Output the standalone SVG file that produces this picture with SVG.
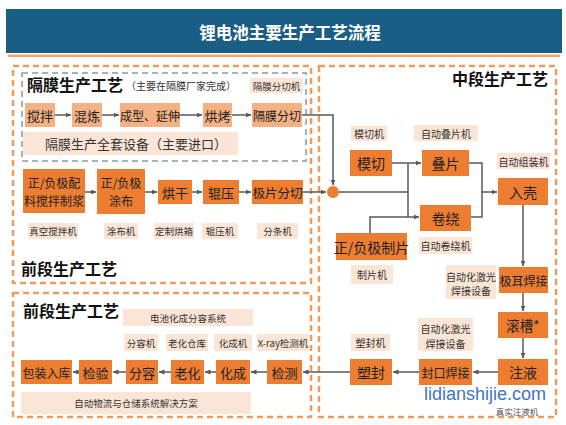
<svg xmlns="http://www.w3.org/2000/svg" width="566" height="425" viewBox="0 0 566 425">
<defs>
<marker id="ah" markerWidth="6" markerHeight="6" refX="5.5" refY="3" orient="auto" markerUnits="userSpaceOnUse">
<path d="M0,0.5 L6,3 L0,5.5 Z" fill="#595959"/>
</marker>
<style>
text{font-family:"Noto Sans CJK SC","Noto Sans",sans-serif;text-anchor:middle;dominant-baseline:central}
.dark rect{fill:#ED7D31}
.dark text{fill:#222;font-size:13px}
.light rect{fill:#F4B183}
.light text{fill:#222;font-size:13px}
.lbl rect{fill:#FBE5D6}
.lbl text{fill:#333;font-size:9.5px}
.head{font-weight:bold;font-size:16px;fill:#111}
.od{fill:none;stroke:#EE9C5E;stroke-width:2.5;stroke-dasharray:6 4}
.gd{fill:none;stroke:#A8B0B8;stroke-width:2;stroke-dasharray:6 4}
.con path{fill:none;stroke:#595959;stroke-width:1.5}
.con .a{marker-end:url(#ah)}
</style>
</defs>
<rect width="566" height="425" fill="#ffffff"/>
<g id="title">
<rect x="6" y="9" width="556" height="44" fill="#1B5E85"/>
<rect x="8" y="54.5" width="552" height="2.5" fill="#F2A46E"/>
<text x="290" y="32" style="font-size:16.5px;font-weight:bold;fill:#fff">锂电池主要生产工艺流程</text>
</g>
<g id="sections">
<rect class="od" x="13" y="66" width="298" height="217"/>
<rect class="gd" x="22" y="73" width="284" height="88"/>
<rect class="od" x="319" y="66" width="237" height="351"/>
<rect class="od" x="13" y="293" width="298" height="124"/>
<text class="head" x="27" y="84" style="text-anchor:start">隔膜生产工艺</text>
<text x="126" y="85" style="text-anchor:start;font-size:10px;fill:#333">（主要在隔膜厂家完成）</text>
<text class="head" x="21" y="268" style="text-anchor:start">前段生产工艺</text>
<text class="head" x="548" y="78" style="text-anchor:end">中段生产工艺</text>
<text class="head" x="23" y="310" style="text-anchor:start">前段生产工艺</text>
</g>
<g id="connectors" class="con">
<path class="a" d="M55,115 H71"/>
<path class="a" d="M102,115 H119"/>
<path class="a" d="M180,115 H202"/>
<path class="a" d="M232,115 H251"/>
<path class="a" d="M302,115 H333 V185"/>
<path class="a" d="M85,192 H96"/>
<path class="a" d="M145,192 H157"/>
<path class="a" d="M192,192 H202"/>
<path class="a" d="M239,192 H251"/>
<path class="a" d="M303,192 H326"/>
<path d="M339,192 H408"/>
<path d="M408,163 V217"/>
<path class="a" d="M392,163 H421"/>
<path class="a" d="M370,233 V217 H419"/>
<path d="M469,163 H482 V217 H471"/>
<path class="a" d="M482,192 H497"/>
<path class="a" d="M523,205 V266"/>
<path class="a" d="M523,293 V311"/>
<path class="a" d="M523,338 V358"/>
<path class="a" d="M498,372 H473"/>
<path class="a" d="M419,372 H393"/>
<path class="a" d="M350,372 H303"/>
<path class="a" d="M267,372 H251"/>
<path class="a" d="M216,372 H205"/>
<path class="a" d="M171,372 H159"/>
<path class="a" d="M126,372 H113"/>
<path class="a" d="M79,372 H73"/>
</g>
<g id="junction"><circle cx="333" cy="192" r="6" fill="#ED7D31"/></g>
<g id="n-jiaoban" class="light"><rect x="25" y="103" width="30" height="24"/><text x="40" y="115">搅拌</text></g>
<g id="n-hunlian" class="light"><rect x="72" y="103" width="30" height="24"/><text x="87" y="115">混炼</text></g>
<g id="n-chengxing" class="light"><rect x="120" y="103" width="60" height="24"/><text x="150" y="115" style="font-size:12px">成型、延伸</text></g>
<g id="n-hongkao" class="light"><rect x="203" y="103" width="29" height="24"/><text x="217.5" y="115">烘烤</text></g>
<g id="n-gemofenqie" class="light"><rect x="252" y="103" width="50" height="24"/><text x="277" y="115" style="font-size:12px">隔膜分切</text></g>
<g id="l-gemofenqieji" class="lbl"><rect x="250" y="78" width="53" height="15"/><text x="276.5" y="85.5">隔膜分切机</text></g>
<g id="l-gemoshebei" class="lbl"><rect x="23" y="132" width="215" height="23"/><text x="45" y="143.5" style="text-anchor:start;font-size:13px">隔膜生产全套设备（主要进口）</text></g>
<g id="n-zhijiang" class="dark"><rect x="23" y="169" width="62" height="44"/><text x="54" y="182" style="font-size:12px">正/负极配</text><text x="54" y="200" style="font-size:12px">料搅拌制浆</text></g>
<g id="n-tubu" class="dark"><rect x="97" y="169" width="48" height="45"/><text x="121" y="182" style="font-size:12px">正/负极</text><text x="121" y="200" style="font-size:12px">涂布</text></g>
<g id="n-honggan" class="dark"><rect x="158" y="180" width="34" height="24"/><text x="175" y="192">烘干</text></g>
<g id="n-gunya" class="dark"><rect x="203" y="180" width="36" height="24"/><text x="221" y="192">辊压</text></g>
<g id="n-jipianfenqie" class="dark"><rect x="252" y="180" width="51" height="24"/><text x="277.5" y="192" style="font-size:12.5px">极片分切</text></g>
<g id="l-zhenkong" class="lbl"><rect x="28" y="223" width="50" height="16"/><text x="53" y="231">真空搅拌机</text></g>
<g id="l-tubuji" class="lbl"><rect x="104" y="223" width="34" height="16"/><text x="121" y="231">涂布机</text></g>
<g id="l-hongxiang" class="lbl"><rect x="154" y="223" width="40" height="16"/><text x="174" y="231">定制烘箱</text></g>
<g id="l-gunyaji" class="lbl"><rect x="202" y="223" width="36" height="16"/><text x="220" y="231">辊压机</text></g>
<g id="l-fentiaoji" class="lbl"><rect x="257" y="223" width="41" height="16"/><text x="277.5" y="231">分条机</text></g>
<g id="n-moqie" class="dark"><rect x="350" y="150" width="42" height="26"/><text x="371" y="163" style="font-size:14px">模切</text></g>
<g id="n-diepian" class="dark"><rect x="422" y="150" width="47" height="26"/><text x="445.5" y="163" style="font-size:14px">叠片</text></g>
<g id="n-ruke" class="dark"><rect x="498" y="178" width="50" height="27"/><text x="523" y="191.5" style="font-size:14px">入壳</text></g>
<g id="n-juanrao" class="dark"><rect x="420" y="205" width="51" height="26"/><text x="445.5" y="218" style="font-size:14px">卷绕</text></g>
<g id="n-zhipian" class="dark"><rect x="336" y="233" width="71" height="27"/><text x="371.5" y="246.5" style="font-size:14px">正/负极制片</text></g>
<g id="n-jier" class="dark"><rect x="499" y="267" width="49" height="26"/><text x="523.5" y="280" style="font-size:12px">极耳焊接</text></g>
<g id="n-guncao" class="dark"><rect x="498" y="312" width="50" height="26"/><text x="523" y="325" style="font-size:13.5px">滚槽*</text></g>
<g id="n-zhuye" class="dark"><rect x="498" y="359" width="50" height="26"/><text x="523" y="372" style="font-size:14px">注液</text></g>
<g id="n-fengkou" class="dark"><rect x="419" y="359" width="53" height="26"/><text x="445.5" y="372" style="font-size:12px">封口焊接</text></g>
<g id="n-sufeng" class="dark"><rect x="350" y="359" width="42" height="26"/><text x="371" y="372" style="font-size:14px">塑封</text></g>
<g id="l-moqieji" class="lbl"><rect x="351" y="126" width="36" height="15"/><text x="369" y="133.5" style="font-size:10px">模切机</text></g>
<g id="l-diepianji" class="lbl"><rect x="414" y="125" width="64" height="16"/><text x="446" y="133" style="font-size:10px">自动叠片机</text></g>
<g id="l-zuzhuangji" class="lbl"><rect x="497" y="153" width="53" height="16"/><text x="523.5" y="161" style="font-size:10px">自动组装机</text></g>
<g id="l-juanraoji" class="lbl"><rect x="419" y="237" width="53" height="17"/><text x="445.5" y="245.5" style="font-size:10px">自动卷绕机</text></g>
<g id="l-zhipianji" class="lbl"><rect x="351" y="265" width="42" height="19"/><text x="372" y="274.5" style="font-size:10px">制片机</text></g>
<g id="l-jiguang1" class="lbl"><rect x="446" y="265" width="50" height="34"/><text x="471" y="276" style="font-size:10px">自动化激光</text><text x="471" y="290" style="font-size:10px">焊接设备</text></g>
<g id="l-sufengji" class="lbl"><rect x="351" y="334" width="39" height="17"/><text x="370.5" y="342.5" style="font-size:10px">塑封机</text></g>
<g id="l-jiguang2" class="lbl"><rect x="418" y="318" width="55" height="33"/><text x="445.5" y="328" style="font-size:10px">自动化激光</text><text x="445.5" y="343" style="font-size:10px">焊接设备</text></g>
<g id="n-baozhuang" class="dark"><rect x="21" y="360" width="51" height="24"/><text x="46.5" y="372" style="font-size:12px">包装入库</text></g>
<g id="n-jianyan" class="dark"><rect x="79" y="360" width="33" height="24"/><text x="95.5" y="372">检验</text></g>
<g id="n-fenrong" class="dark"><rect x="126" y="360" width="32" height="24"/><text x="142" y="372">分容</text></g>
<g id="n-laohua" class="dark"><rect x="171" y="360" width="33" height="24"/><text x="187.5" y="372">老化</text></g>
<g id="n-huacheng" class="dark"><rect x="216" y="360" width="34" height="24"/><text x="233" y="372">化成</text></g>
<g id="n-jiance" class="dark"><rect x="267" y="360" width="35" height="24"/><text x="284.5" y="372">检测</text></g>
<g id="l-xitong" class="lbl"><rect x="123" y="309" width="130" height="17"/><text x="188" y="317.5">电池化成分容系统</text></g>
<g id="l-fenrongji" class="lbl"><rect x="124" y="334" width="34" height="17"/><text x="141" y="342.5">分容机</text></g>
<g id="l-laohuacangku" class="lbl"><rect x="166" y="334" width="42" height="17"/><text x="187" y="342.5">老化仓库</text></g>
<g id="l-huachengji" class="lbl"><rect x="214" y="334" width="38" height="17"/><text x="233" y="342.5">化成机</text></g>
<g id="l-xray" class="lbl"><rect x="257" y="334" width="52" height="17"/><text x="283" y="342.5">X-ray检测机</text></g>
<g id="l-wuliu" class="lbl"><rect x="21" y="392" width="230" height="22"/><text x="136" y="403">自动物流与仓储系统解决方案</text></g>
<g id="watermark">
<text x="485" y="394" style="font-family:'Liberation Sans',sans-serif;font-size:18px;fill:#3F74C8;stroke:#ffffff;stroke-width:2;paint-order:stroke">lidianshijie.com</text>
<text x="517" y="411" style="font-size:8.5px;fill:#555">真实注液机</text>
</g>
</svg>
